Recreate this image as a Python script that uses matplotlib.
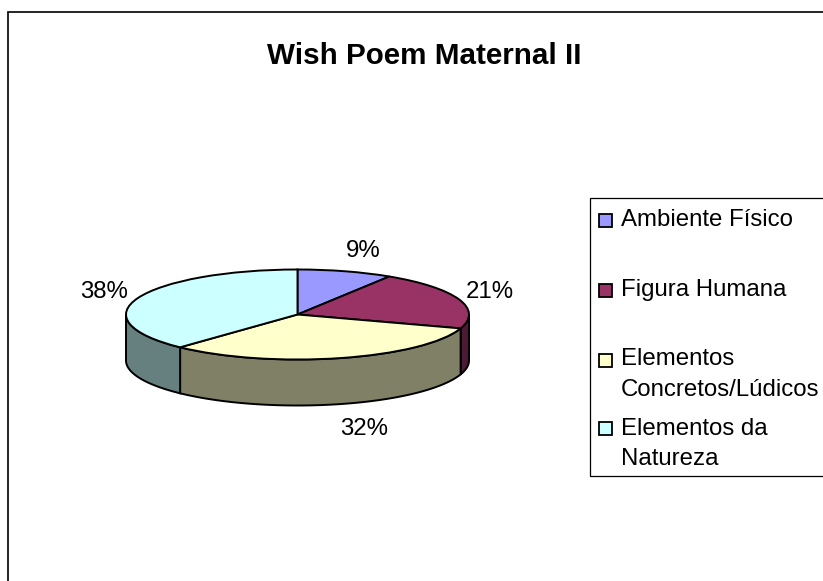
import numpy as np
import matplotlib
matplotlib.use("Agg")
import matplotlib.pyplot as plt
from matplotlib.patches import Rectangle

plt.rcParams['font.family'] = ['Liberation Sans', 'DejaVu Sans']

#### data ####
title = "Wish Poem Maternal II"
categories = ["Ambiente Físico", "Figura Humana", "Elementos\nConcretos/Lúdicos", "Elementos da\nNatureza"]
values = [9, 21, 32, 38]
top_colors = ["#9999FF", "#993366", "#FFFFCC", "#CCFFFF"]
side_colors = ["#666699", "#4D1A33", "#808066", "#668080"]

W, H = 823, 581
cx, cy, rx, ry = 297.5, 314.5, 171.5, 45.0
depth = 46.0
edge = "black"
lw = 1.4

fig = plt.figure(figsize=(W / 100, H / 100), dpi=100, facecolor="white")

# page layer in pixel coordinates
bg = fig.add_axes([0, 0, 1, 1])
bg.set_xlim(0, W)
bg.set_ylim(H, 0)
bg.axis("off")
bg.plot([8, 8, W + 5], [H + 5, 12, 12], color="black", lw=1.2, solid_joinstyle="miter")
bg.text(424, 64, title, fontsize=21.3, fontweight="bold", ha="center", va="baseline")

# pie layer: unit circle squashed to an ellipse
ax = fig.add_axes([(cx - rx) / W, 1 - (cy + ry) / H, 2 * rx / W, 2 * ry / H])
wedges, _ = ax.pie(values, colors=top_colors, startangle=90, counterclock=False, radius=1,
                   wedgeprops={"edgecolor": edge, "linewidth": lw})
ax.set_aspect("auto")
ax.set_xlim(-1, 1)
ax.set_ylim(-1, 1)
for w in wedges:
    w.set_clip_on(False)
    w.set_zorder(3)

# side wall, only the part of each slice facing the viewer
drop = 2 * depth / (2 * ry)
bounds = np.cumsum([0] + values) / sum(values) * 2 * np.pi
for i in range(len(values)):
    a0 = max(bounds[i], np.pi / 2)
    a1 = min(bounds[i + 1], 3 * np.pi / 2)
    if a1 <= a0:
        continue
    t = np.linspace(a0, a1, 80)
    x = np.sin(t)
    y = np.cos(t)
    xs = np.concatenate([x, x[::-1]])
    ys = np.concatenate([y, (y - drop)[::-1]])
    ax.fill(xs, ys, facecolor=side_colors[i], edgecolor=edge, linewidth=lw,
            clip_on=False, zorder=2)

# percent labels
label_pos = [(363, 257), (490, 298), (364, 435), (104, 298)]
for v, (lx, ly) in zip(values, label_pos):
    bg.text(lx, ly, f"{v}%", fontsize=17.3, ha="center", va="baseline")

# legend
bg.plot([W + 5, 590.5, 590.5, W + 5], [198, 198, 476, 476], color="black", lw=0.9, solid_joinstyle="miter")
swatch_y = [213.5, 283.5, 353.5, 422]
text_y = [[226], [296], [365, 396], [435, 465]]
for lab, col, sy, ty in zip(categories, top_colors, swatch_y, text_y):
    bg.add_patch(Rectangle((599.5, sy), 13, 13, facecolor=col, edgecolor="black", lw=1.3))
    for line, yy in zip(lab.split("\n"), ty):
        bg.text(621, yy, line, fontsize=17.3, ha="left", va="baseline")

fig.savefig("out.png", dpi=100)
